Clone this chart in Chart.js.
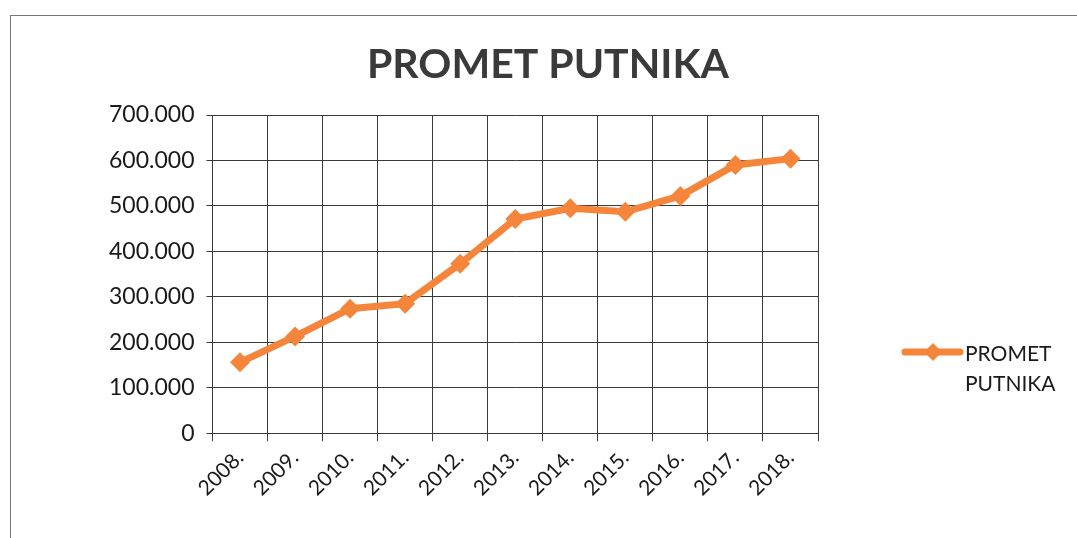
<!DOCTYPE html>
<html>
<head>
<meta charset="utf-8">
<script src="https://cdn.jsdelivr.net/npm/chart.js@4/dist/chart.umd.min.js"></script>
<style>
  body { margin: 0; background: #fff; }
  #wrap { position: relative; width: 1077px; height: 538px; }
  #frame { position: absolute; left: 10px; top: 15px; right: -2px; bottom: -2px;
           border-top: 1px solid #777; border-left: 1px solid #777; }
  canvas { position: absolute; left: 0; top: 0; }
</style>
</head>
<body>
<div id="wrap">
  <div id="frame"></div>
  <canvas id="chart" width="1077" height="538"></canvas>
</div>
<script>
const years = ["2008.", "2009.", "2010.", "2011.", "2012.", "2013.", "2014.", "2015.", "2016.", "2017.", "2018."];
const passengers = [156000, 213000, 274000, 285000, 373000, 471000, 495000, 487000, 522000, 590000, 604000];
const seriesName = "PROMET PUTNIKA";
const legendLines = ["PROMET", "PUTNIKA"];

const orange = "#F5853A";
const gridColor = "#3a3a3a";
const font = "Lato";

// title and legend drawn by hand: title is centred on the page, legend label wraps
const extras = {
  id: "extras",
  afterDraw(c) {
    const ctx = c.ctx;
    ctx.save();
    ctx.fillStyle = "#3a3a3a";
    ctx.font = "bold 41px " + font;
    ctx.textAlign = "center";
    ctx.textBaseline = "middle";
    ctx.fillText(seriesName, 548, 65);

    const x = 905, y = 352;
    ctx.strokeStyle = orange;
    ctx.lineWidth = 7;
    ctx.lineCap = "round";
    ctx.beginPath();
    ctx.moveTo(x, y);
    ctx.lineTo(x + 55, y);
    ctx.stroke();
    ctx.fillStyle = orange;
    ctx.beginPath();
    ctx.moveTo(x + 28, y - 9);
    ctx.lineTo(x + 37, y);
    ctx.lineTo(x + 28, y + 9);
    ctx.lineTo(x + 19, y);
    ctx.closePath();
    ctx.fill();
    ctx.fillStyle = "#1a1a1a";
    ctx.font = "21px " + font;
    ctx.textAlign = "left";
    ctx.fillText(legendLines[0], x + 60, y + 2);
    ctx.fillText(legendLines[1], x + 60, y + 32);
    ctx.restore();
  }
};

new Chart(document.querySelector("#chart"), {
  type: "line",
  data: {
    labels: years,
    datasets: [
      {
        label: seriesName,
        data: passengers,
        borderColor: orange,
        backgroundColor: orange,
        borderWidth: 7,
        pointStyle: "rectRot",
        pointRadius: 10,
        pointBorderWidth: 0,
        tension: 0,
      },
    ],
  },
  options: {
    responsive: false,
    animation: false,
    layout: {
      padding: { left: 97, right: 259, top: 115, bottom: 33 },
    },
    plugins: {
      legend: { display: false },
      tooltip: { enabled: false },
      title: { display: false },
    },
    scales: {
      x: {
        offset: true,
        grid: { offset: true, color: gridColor, lineWidth: 1, tickLength: 8, tickColor: gridColor },
        border: { color: gridColor },
        ticks: {
          color: "#1a1a1a",
          font: { family: font, size: 21 },
          maxRotation: 45,
          minRotation: 45,
          padding: 4,
        },
      },
      y: {
        min: 0,
        max: 700000,
        grid: { color: gridColor, lineWidth: 1, tickLength: 6, tickColor: gridColor },
        border: { color: gridColor },
        ticks: {
          stepSize: 100000,
          color: "#1a1a1a",
          font: { family: font, size: 23 },
          padding: 12,
          callback: (v) => v.toLocaleString("de-DE"),
        },
      },
    },
  },
  plugins: [extras],
});
</script>
</body>
</html>
